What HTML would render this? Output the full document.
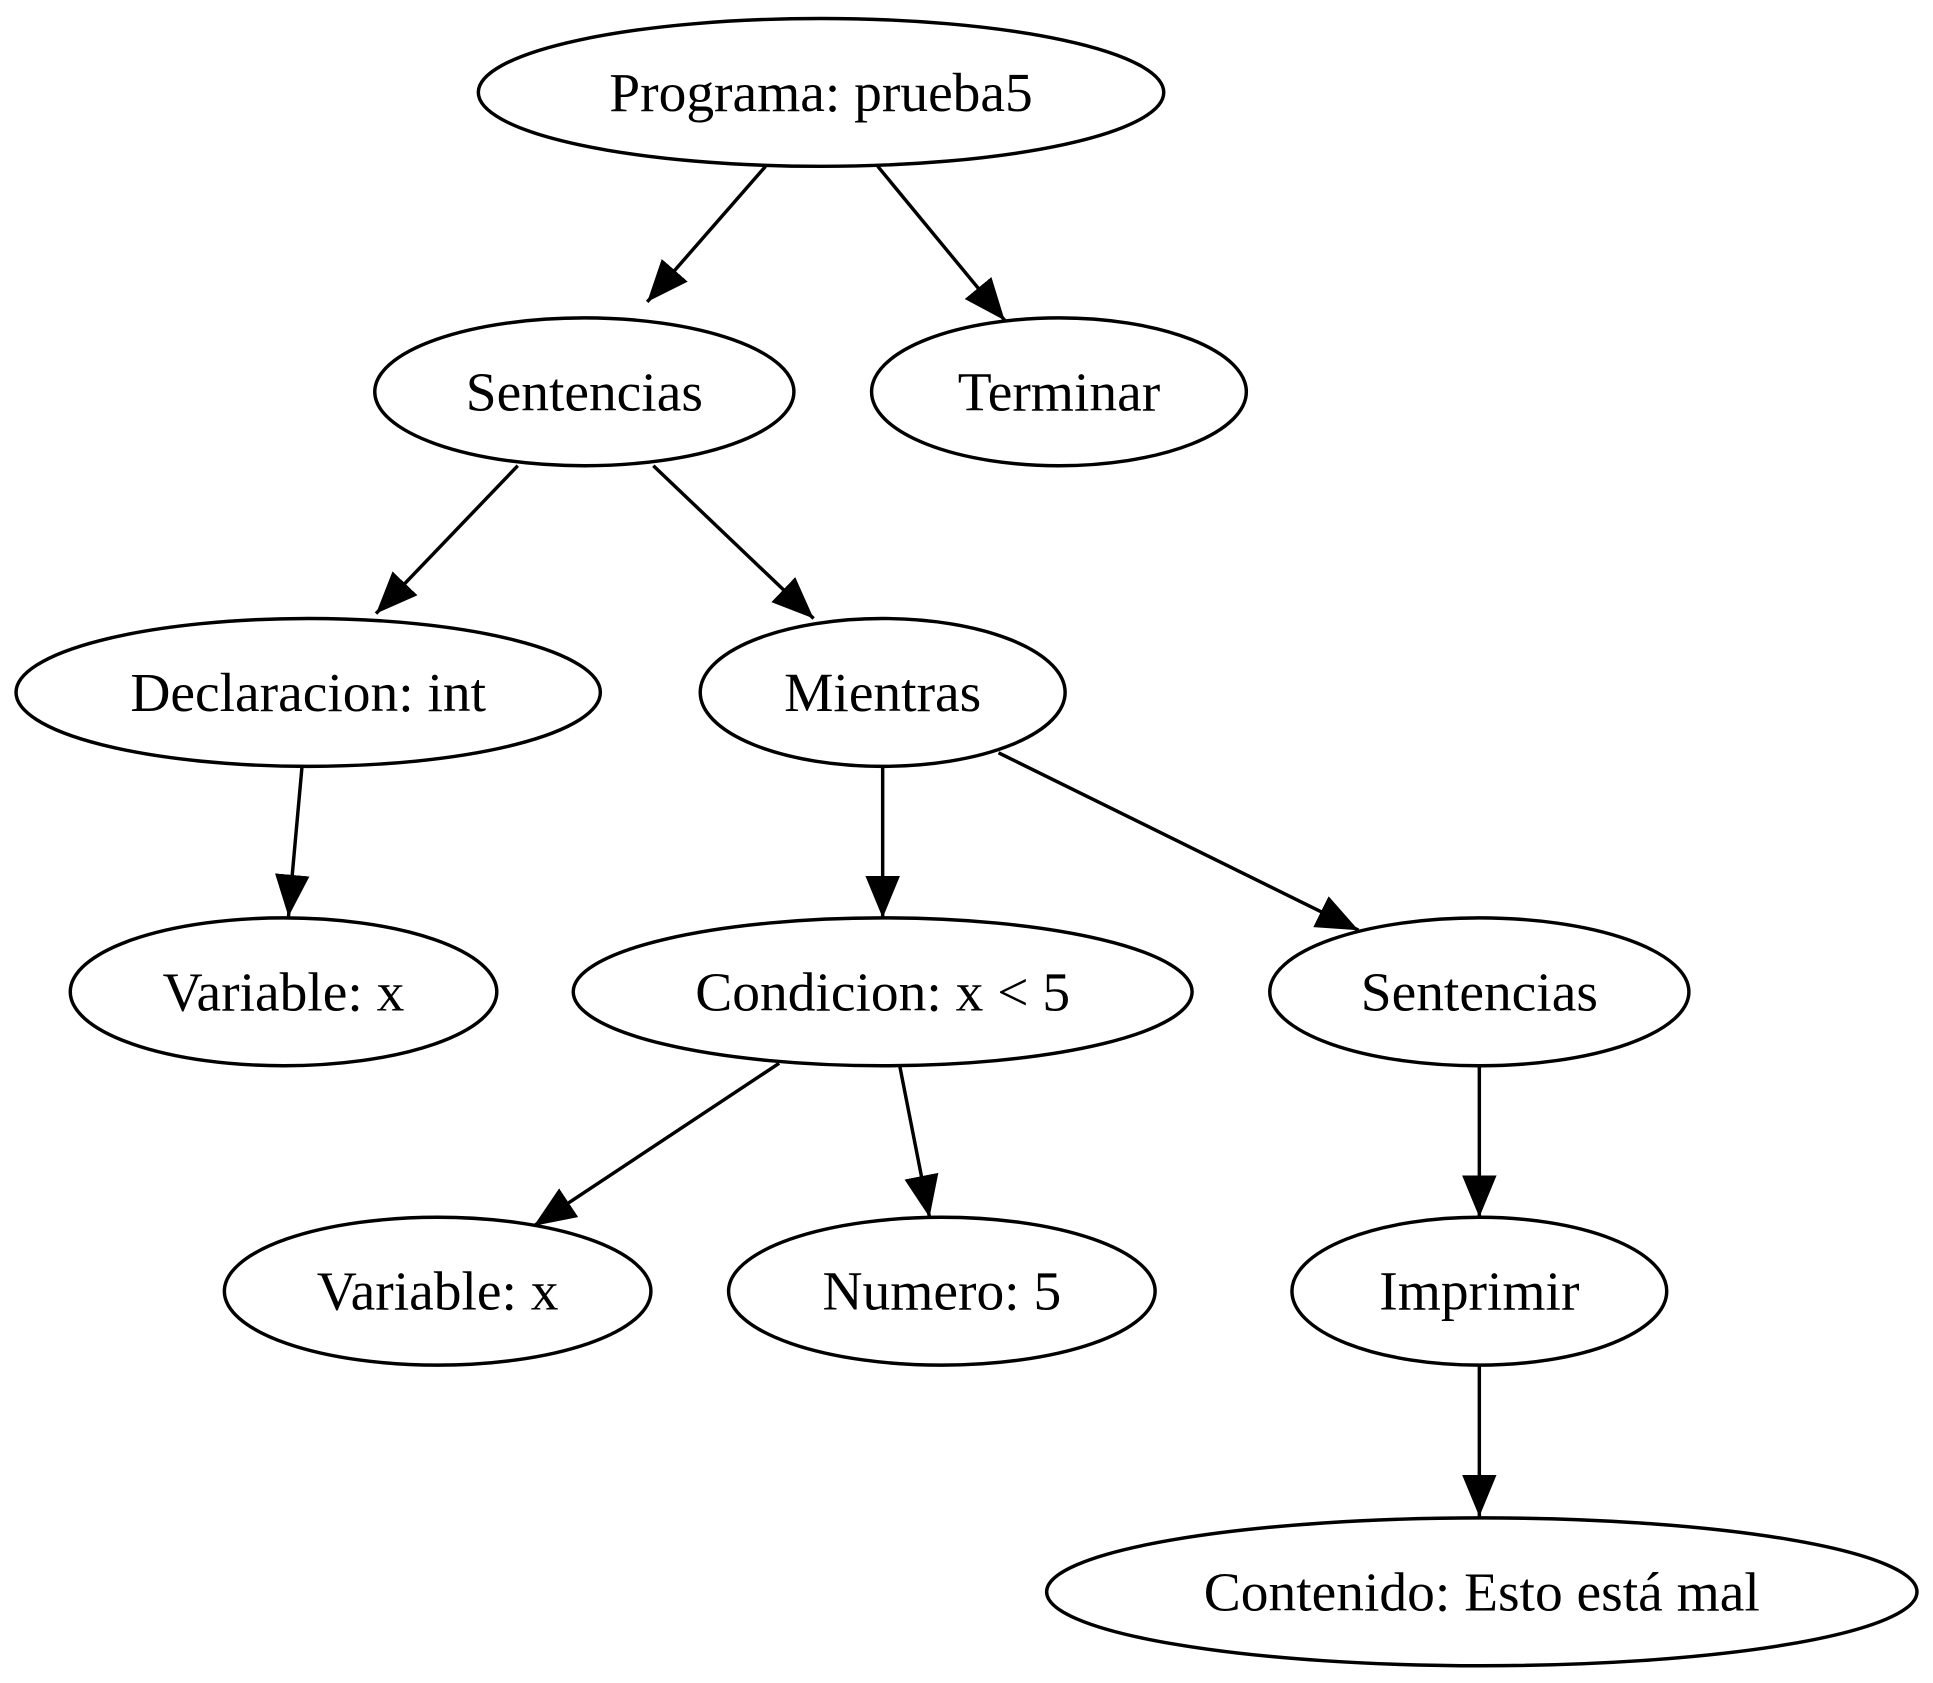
<!DOCTYPE html>
<html><head><meta charset="utf-8"><style>html,body{margin:0;padding:0;background:#fff}svg{display:block}</style></head>
<body>
<svg width="1933" height="1683" viewBox="0 0 1568 1366" preserveAspectRatio="none" xmlns="http://www.w3.org/2000/svg">
<defs><marker id="a" markerUnits="userSpaceOnUse" markerWidth="36" markerHeight="30" refX="34" refY="14" orient="auto"><path d="M0,0 L34,14 L0,28 Z" fill="#000"/></marker></defs>
<g fill="none" stroke="#000" stroke-width="2.8">
<ellipse cx="666" cy="75" rx="278" ry="60"/>
<ellipse cx="474" cy="318" rx="170" ry="60"/>
<ellipse cx="859" cy="318" rx="152" ry="60"/>
<ellipse cx="250" cy="562" rx="237" ry="60"/>
<ellipse cx="716" cy="562" rx="148" ry="60"/>
<ellipse cx="230" cy="805" rx="173" ry="60"/>
<ellipse cx="716" cy="805" rx="251" ry="60"/>
<ellipse cx="1200" cy="805" rx="170" ry="60"/>
<ellipse cx="355" cy="1048" rx="173" ry="60"/>
<ellipse cx="764" cy="1048" rx="173" ry="60"/>
<ellipse cx="1200" cy="1048" rx="152" ry="60"/>
<ellipse cx="1202" cy="1292" rx="353" ry="60"/>
<g marker-end="url(#a)">
<line x1="621" y1="135" x2="525" y2="245"/>
<line x1="712" y1="135" x2="815" y2="260"/>
<line x1="420" y1="378" x2="305" y2="498"/>
<line x1="530" y1="378" x2="660" y2="502"/>
<line x1="245" y1="622" x2="234" y2="744"/>
<line x1="716" y1="622" x2="716" y2="745"/>
<line x1="810" y1="611" x2="1102" y2="755"/>
<line x1="632" y1="863" x2="433" y2="995"/>
<line x1="730" y1="866" x2="754" y2="988"/>
<line x1="1200" y1="866" x2="1200" y2="988"/>
<line x1="1200" y1="1108" x2="1200" y2="1231"/>
</g></g>
<g font-family="Liberation Serif, serif" font-size="45" text-anchor="middle" fill="#000">
<text x="666" y="90">Programa: prueba5</text>
<text x="474" y="333">Sentencias</text>
<text x="859" y="333">Terminar</text>
<text x="250" y="577">Declaracion: int</text>
<text x="716" y="577">Mientras</text>
<text x="230" y="820">Variable: x</text>
<text x="716" y="820">Condicion: x &lt; 5</text>
<text x="1200" y="820">Sentencias</text>
<text x="355" y="1063">Variable: x</text>
<text x="764" y="1063">Numero: 5</text>
<text x="1200" y="1063">Imprimir</text>
<text x="1202" y="1307">Contenido: Esto está mal</text>
</g>
</svg>
</body></html>
